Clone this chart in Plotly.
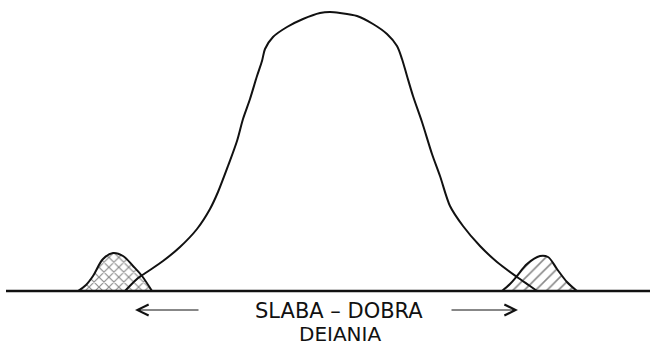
import plotly.graph_objects as go

# Main bell curve (x position, height above baseline)
main_x = [125, 137, 147, 163, 180, 197, 210, 218, 228, 237, 243, 250, 257, 262, 265, 273, 287, 303, 320, 330,
          340, 357, 373, 387, 397, 402, 407, 413, 422, 432, 440, 450, 463, 480, 497, 517, 530, 537]
main_h = [0, 12, 19, 30, 44, 62, 82, 99, 125, 150, 172, 192, 215, 230, 242, 254, 264, 272, 278, 279,
          278, 275, 267, 257, 245, 232, 215, 195, 169, 137, 115, 85, 65, 45, 29, 14, 5, 0]

# Left (cross-hatched) small bump
left_x = [78, 86, 93, 103, 113, 123, 133, 142, 152]
left_h = [0, 6, 15, 32, 38, 35, 25, 15, 0]

# Right (slash-hatched) small bump
right_x = [502, 510, 517, 527, 540, 548, 557, 567, 577]
right_h = [0, 7, 15, 27, 35, 34, 22, 9, 0]

# Baseline
base_x = [6, 650]
base_h = [0, 0]

label_top = "SLABA – DOBRA"
label_bottom = "DEIANIA"

fig = go.Figure()

fig.add_trace(go.Scatter(
    x=left_x, y=left_h, mode="lines", fill="toself",
    line=dict(color="#111", width=2, shape="spline", smoothing=1.0),
    fillcolor="rgba(0,0,0,0)",
    fillpattern=dict(shape="x", fgcolor="#111", bgcolor="rgba(0,0,0,0)", size=7, solidity=0.3),
    hoverinfo="skip", showlegend=False))

fig.add_trace(go.Scatter(
    x=right_x, y=right_h, mode="lines", fill="toself",
    line=dict(color="#111", width=2, shape="spline", smoothing=1.0),
    fillcolor="rgba(0,0,0,0)",
    fillpattern=dict(shape="/", fgcolor="#111", bgcolor="rgba(0,0,0,0)", size=8, solidity=0.2),
    hoverinfo="skip", showlegend=False))

fig.add_trace(go.Scatter(
    x=main_x, y=main_h, mode="lines",
    line=dict(color="#111", width=2, shape="spline", smoothing=0.8),
    hoverinfo="skip", showlegend=False))

fig.add_trace(go.Scatter(
    x=base_x, y=base_h, mode="lines",
    line=dict(color="#111", width=2.5),
    hoverinfo="skip", showlegend=False))

annotations = [
    dict(x=339, y=-20, text=label_top, showarrow=False,
         font=dict(family="DejaVu Sans", size=21, color="#111")),
    dict(x=340, y=-43, text=label_bottom, showarrow=False,
         font=dict(family="DejaVu Sans", size=20, color="#111")),
    dict(x=135, y=-19, ax=200, ay=-19, xref="x", yref="y", axref="x", ayref="y",
         text="", showarrow=True, arrowhead=5, arrowsize=2.2, arrowwidth=1, arrowcolor="#111"),
    dict(x=518, y=-19, ax=450, ay=-19, xref="x", yref="y", axref="x", ayref="y",
         text="", showarrow=True, arrowhead=5, arrowsize=2.2, arrowwidth=1, arrowcolor="#111"),
]

fig.update_layout(
    width=652, height=346,
    margin=dict(l=0, r=0, t=0, b=0),
    paper_bgcolor="white", plot_bgcolor="white",
    xaxis=dict(range=[0, 652], visible=False, fixedrange=True),
    yaxis=dict(range=[-55, 291], visible=False, fixedrange=True),
    annotations=annotations,
)

fig.write_html("out.html", config={"displayModeBar": False},
               post_script="document.body.style.margin='0';document.body.style.overflow='hidden';")
